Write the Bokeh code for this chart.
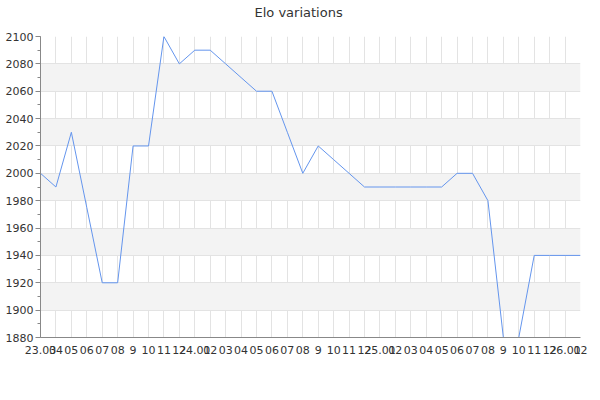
from bokeh.plotting import figure
from bokeh.models import Range1d, FixedTicker, ColumnDataSource, LinearAxis
from bokeh.embed import file_html
from bokeh.resources import INLINE

title_text = "Elo variations"
tick_labels = ["23.03", "04", "05", "06", "07", "08", "9", "10", "11", "12",
               "24.01", "02", "03", "04", "05", "06", "07", "08", "9", "10", "11", "12",
               "25.01", "02", "03", "04", "05", "06", "07", "08", "9", "10", "11", "12",
               "26.01", "02"]
elo = [2000, 1990, 2030, 1975, 1920, 1920, 2020, 2020, 2100, 2080,
       2090, 2090, 2080, 2070, 2060, 2060, 2030, 2000, 2020, 2010, 2000, 1990,
       1990, 1990, 1990, 1990, 1990, 2000, 2000, 1980, 1880, 1880, 1940, 1940,
       1940, 1940]
month_index = list(range(len(elo)))
y_ticks = list(range(1880, 2101, 20))

src = ColumnDataSource(data=dict(x=month_index, y=elo))

p = figure(width=600, height=400, output_backend="svg", toolbar_location=None,
           x_range=Range1d(0, len(elo) - 1), y_range=Range1d(1880, 2100),
           title=title_text)
p.min_border_left = 40
p.min_border_right = 20
p.min_border_top = 36
p.min_border_bottom = 63
p.outline_line_color = None
p.background_fill_color = "white"
p.border_fill_color = "white"

p.title.align = "left"
p.title.offset = 214
p.title.text_font = "DejaVu Sans"
p.title.text_font_size = "13px"
p.title.text_font_style = "normal"
p.title.text_color = "#333333"
p.title.standoff = 2

xax = p.below[0]
yax = p.left[0]

# invisible spacer between the title and the plot area
spacer = LinearAxis(ticker=FixedTicker(ticks=[0]), axis_line_color=None,
                    major_tick_line_color=None, minor_tick_line_color=None,
                    major_tick_out=16, minor_tick_out=0, major_tick_in=0,
                    minor_tick_in=0, major_label_overrides={0: ""},
                    major_label_standoff=0)
p.add_layout(spacer, "above")

p.line("x", "y", source=src, line_color="#6495ed", line_width=1)

xax.ticker = FixedTicker(ticks=month_index)
xax.major_label_overrides = {i: t for i, t in enumerate(tick_labels)}
xax.major_tick_out = 0
xax.major_tick_in = 0
xax.minor_tick_out = 0
xax.minor_tick_in = 0
xax.major_label_standoff = 8

yax.ticker = FixedTicker(ticks=y_ticks, minor_ticks=list(range(1880, 2101, 10)))
yax.major_tick_out = 5
yax.major_tick_in = 0
yax.minor_tick_out = 3
yax.minor_tick_in = 0
yax.major_label_standoff = 2

for ax in (xax, yax):
    ax.axis_line_color = "#888888"
    ax.major_tick_line_color = "#888888"
    ax.minor_tick_line_color = "#888888"
    ax.major_label_text_font = "DejaVu Sans"
    ax.major_label_text_font_size = "11px"
    ax.major_label_text_color = "#333333"

p.xgrid.ticker = FixedTicker(ticks=month_index)
p.ygrid.ticker = FixedTicker(ticks=y_ticks)
p.xgrid.grid_line_color = "#e3e3e3"
p.ygrid.grid_line_color = "#e3e3e3"
p.ygrid.band_fill_color = "#f3f3f3"
p.ygrid.band_fill_alpha = 1.0

open("out.html", "w").write(file_html(p, INLINE))
